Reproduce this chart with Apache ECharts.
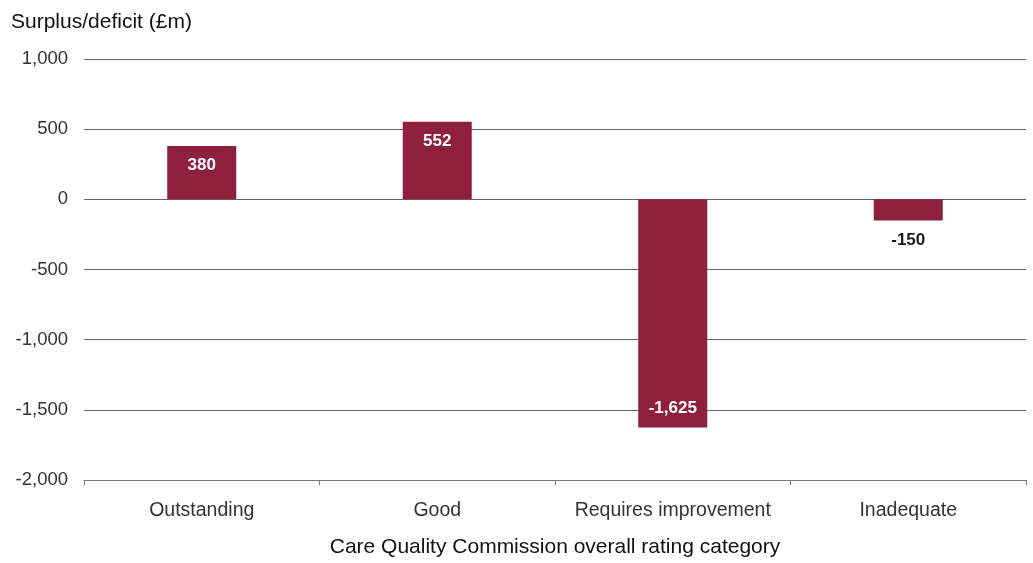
<!DOCTYPE html>
<html>
<head>
<meta charset="utf-8">
<script src="https://cdn.jsdelivr.net/npm/echarts@6/dist/echarts.min.js"></script>
<style>
  html, body { margin: 0; padding: 0; background: #fff; }
  #chart { width: 1033px; height: 563px; }
</style>
</head>
<body>
<div id="chart"></div>
<script>
  // CQC rating categories and surplus/deficit (£m)
  const categories = ['Outstanding', 'Good', 'Requires improvement', 'Inadequate']
  const values = [380, 552, -1625, -150]
  const yTicks = { min: -2000, max: 1000, interval: 500 }

  const font = '"Liberation Sans", Arial, sans-serif'
  const barColor = '#8E1F3D'

  // label placement per bar (inside for big bars, outside for the small one)
  const labelPos = ['insideTop', 'insideTop', 'insideBottom', 'bottom']
  const labelColor = ['#fff', '#fff', '#fff', '#1a1a1a']

  const chart = echarts.init(document.getElementById('chart'))

  const option = {
    animation: false,
    textStyle: { fontFamily: font },
    title: {
      text: 'Surplus/deficit (£m)',
      left: 6,
      top: 7,
      textStyle: { fontFamily: font, fontSize: 21, fontWeight: 'normal', color: '#111' }
    },
    grid: { left: 84, right: 7, top: 59, bottom: 82 },
    xAxis: {
      type: 'category',
      data: categories,
      name: 'Care Quality Commission overall rating category',
      nameLocation: 'middle',
      nameGap: 57,
      nameTextStyle: { fontFamily: font, fontSize: 21, color: '#111' },
      axisLine: { onZero: false, lineStyle: { color: '#777', width: 1 } },
      axisTick: { show: true, interval: 0, length: 5, lineStyle: { color: '#777' } },
      axisLabel: { interval: 0, fontSize: 19.5, color: '#333', margin: 21 }
    },
    yAxis: {
      type: 'value',
      min: yTicks.min,
      max: yTicks.max,
      interval: yTicks.interval,
      axisLine: { show: false },
      axisTick: { show: false },
      axisLabel: {
        fontSize: 18.5,
        color: '#333',
        margin: 16,
        padding: [3, 0, 0, 0],
        formatter: v => v.toLocaleString('en-GB')
      },
      splitLine: { lineStyle: { color: '#666', width: 1 } }
    },
    series: [{
      type: 'bar',
      barWidth: 69,
      data: values.map((v, i) => ({
        value: v,
        label: { position: labelPos[i], color: labelColor[i] }
      })),
      itemStyle: { color: barColor },
      label: {
        show: true,
        fontSize: 17,
        fontWeight: 'bold',
        distance: 11,
        formatter: p => p.value.toLocaleString('en-GB')
      }
    }]
  }

  chart.setOption(option)
</script>
</body>
</html>
